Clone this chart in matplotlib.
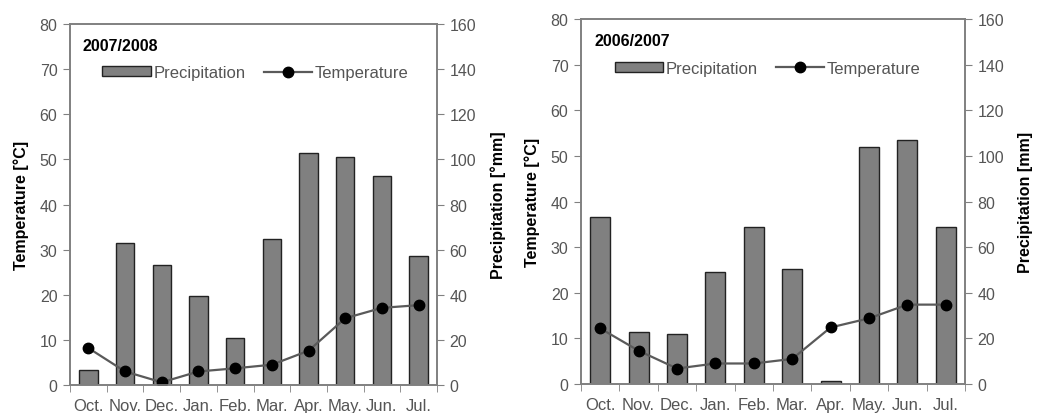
import matplotlib
matplotlib.use("Agg")
import matplotlib.pyplot as plt
import numpy as np
from matplotlib.lines import Line2D
from matplotlib.patches import Patch

plt.rcParams['font.family'] = ['Liberation Sans', 'DejaVu Sans']

months = ["Oct.", "Nov.", "Dec.", "Jan.", "Feb.", "Mar.", "Apr.", "May.", "Jun.", "Jul."]

# 2007/2008
precip_0708 = [6.6, 62.8, 53.4, 39.6, 20.8, 64.6, 102.8, 101.2, 92.6, 57.2]
temp_0708 = [8.2, 3.0, 0.6, 3.0, 3.7, 4.5, 7.6, 14.8, 17.1, 17.7]

# 2006/2007
precip_0607 = [73.4, 22.6, 22.0, 49.0, 69.0, 50.2, 1.4, 103.8, 107.0, 69.0]
temp_0607 = [12.2, 7.3, 3.4, 4.5, 4.5, 5.5, 12.4, 14.4, 17.4, 17.4]

GRAY_TXT = '#555555'
SPINE = '#808080'


def draw(rect, year, precip, temp, right_label, bar_w):
    ax = fig.add_axes(rect)
    ax2 = ax.twinx()
    x = np.arange(len(months))
    ax2.bar(x, precip, width=bar_w, color='#808080', edgecolor='#222222', linewidth=1.0)
    ax.plot(x, temp, color='#5a5a5a', lw=1.6, marker='o', ms=7.5,
            markerfacecolor='black', markeredgecolor='black')
    ax.set_zorder(ax2.get_zorder() + 1)
    ax.patch.set_visible(False)

    ax.set_xlim(-0.5, len(months) - 0.5)
    ax.set_ylim(0, 80)
    ax2.set_ylim(0, 160)
    ax.set_yticks(range(0, 81, 10))
    ax2.set_yticks(range(0, 161, 20))
    ax.set_xticks(x)
    ax.set_xticklabels(months, fontsize=12, color=GRAY_TXT)
    ax.set_xticks(np.arange(-0.5, len(months)), minor=True)
    ax.tick_params(axis='x', which='major', length=0, pad=9)
    ax.tick_params(axis='x', which='minor', length=5, direction='out', color=SPINE)
    ax.tick_params(axis='y', length=5, direction='out', color=SPINE, labelsize=11.5,
                   labelcolor=GRAY_TXT, pad=4)
    ax2.tick_params(axis='y', length=5, direction='out', color=SPINE, labelsize=11.5,
                    labelcolor=GRAY_TXT, pad=4)
    for a in (ax, ax2):
        for s in a.spines.values():
            s.set_color(SPINE)
            s.set_linewidth(1.2)

    ax.set_ylabel("Temperature [°C]", fontsize=11.5, fontweight='bold', labelpad=8)
    ax2.set_ylabel(right_label, fontsize=11.5, fontweight='bold', labelpad=10)

    ax.text(0.035, 0.94, year, transform=ax.transAxes, fontsize=11.5,
            fontweight='bold', va='center', ha='left')
    handles = [Patch(facecolor='#808080', edgecolor='#222222', linewidth=1.0),
               Line2D([], [], color='#5a5a5a', lw=1.6, marker='o', ms=7.5,
                      markerfacecolor='black', markeredgecolor='black')]
    ax.legend(handles, ["Precipitation", "Temperature"], loc='center left',
              bbox_to_anchor=(0.07, 0.865), ncol=2, frameon=False, fontsize=12,
              handlelength=2.9, handleheight=0.55, handletextpad=0.15,
              columnspacing=1.1, labelcolor=GRAY_TXT, borderaxespad=0)
    return ax


fig = plt.figure(figsize=(10.51, 4.14), dpi=100)
draw([0.0666, 0.0676, 0.3492, 0.872], "2007/2008", precip_0708, temp_0708,
     "Precipitation [°mm]", 0.5)
draw([0.5528, 0.0700, 0.3654, 0.8817], "2006/2007", precip_0607, temp_0607,
     "Precipitation [mm]", 0.52)

fig.savefig("out.png", dpi=100)
